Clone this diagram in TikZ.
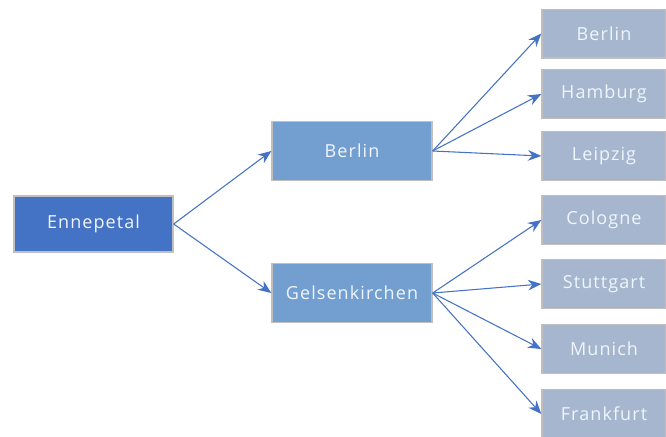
\documentclass[tikz,border=0pt]{standalone}
\usepackage{fontspec}
\setmainfont[LetterSpace=6]{Open Sans}
\usetikzlibrary{arrows.meta}
\definecolor{dark}{RGB}{68,114,196}
\definecolor{mid}{RGB}{114,159,207}
\definecolor{light}{RGB}{166,182,207}
\definecolor{arr}{RGB}{68,114,196}
\definecolor{txt}{RGB}{240,245,252}
\tikzset{
  box/.style={draw=black!25, line width=1pt, text=txt, inner sep=0pt,
    font=\fontsize{13.5}{15}\selectfont, minimum width=#1},
  rootbox/.style={box=119.25pt, fill=dark, minimum height=42pt},
  midbox/.style={box=120pt, fill=mid, minimum height=44pt},
  leafbox/.style={box=93pt, fill=light, minimum height=36.5pt},
  link/.style={draw=arr, line width=0.8pt, -{Stealth[length=10pt,width=8pt]}}
}
\begin{document}
\begin{tikzpicture}[x=0.75pt,y=-0.75pt]
\useasboundingbox (0,0) rectangle (666,436);
\node[rootbox] (enn) at (93.5,224) {Ennepetal};
\node[midbox] (ber) at (352,151) {Berlin};
\node[midbox] (gel) at (352,293) {Gelsenkirchen};
\node[leafbox] (l1) at (604,33.5) {Berlin};
\node[leafbox] (l2) at (604,94) {Hamburg};
\node[leafbox] (l3) at (604,156) {Leipzig};
\node[leafbox] (l4) at (604,220) {Cologne};
\node[leafbox] (l5) at (604,284) {Stuttgart};
\node[leafbox] (l6) at (604,349) {Munich};
\node[leafbox] (l7) at (604,414) {Frankfurt};
\draw[link] (enn.east) -- (ber.west);
\draw[link] (enn.east) -- (gel.west);
\foreach \t in {l1,l2,l3} \draw[link] (ber.east) -- (\t.west);
\foreach \t in {l4,l5,l6,l7} \draw[link] (gel.east) -- (\t.west);
\end{tikzpicture}
\end{document}
